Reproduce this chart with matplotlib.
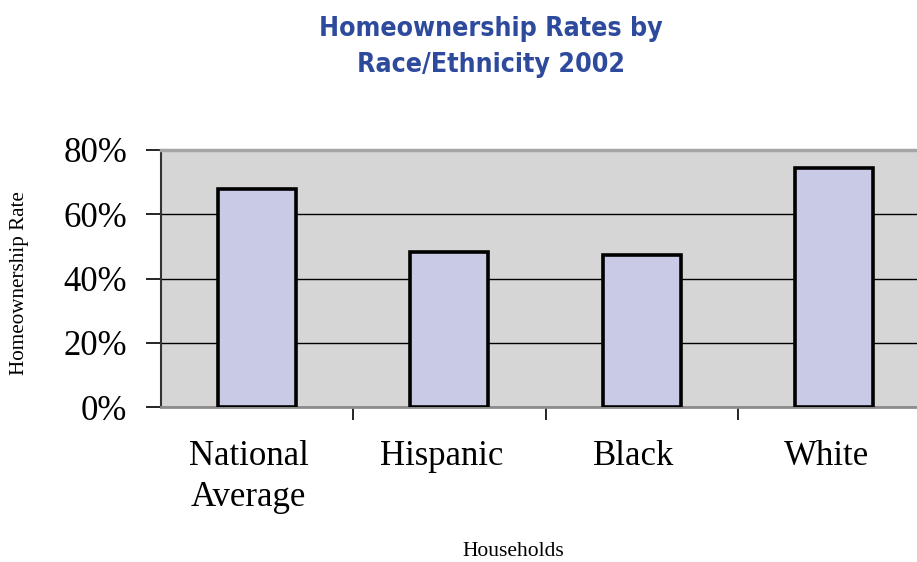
import matplotlib
matplotlib.use("Agg")
import matplotlib.pyplot as plt
import matplotlib.transforms as mtransforms
from matplotlib.ticker import FuncFormatter, FixedLocator, NullFormatter

categories = ["National\nAverage", "Hispanic", "Black", "White"]
rates = [67.9, 48.2, 47.3, 74.5]
yticks = [0, 20, 40, 60, 80]

title_text = "Homeownership Rates by\nRace/Ethnicity 2002"
xlabel_text = "Households"
ylabel_text = "Homeownership Rate"

W, H = 917, 562
fig = plt.figure(figsize=(W / 100, H / 100), dpi=100)
fig.patch.set_facecolor("white")

# plot area runs past the right edge of the canvas
ax = fig.add_axes([160.5 / W, 1 - 407 / H, 770 / W, 257 / H])
ax.set_facecolor("#d6d6d6")

x = list(range(len(categories)))
ax.bar(x, rates, width=0.405, color="#c8cae6", edgecolor="black",
       linewidth=2.6, zorder=3)

ax.set_xlim(-0.5, len(categories) - 0.5)
ax.set_ylim(0, 80)

ax.set_yticks(yticks)
ax.yaxis.set_major_formatter(FuncFormatter(lambda v, p: f"{v:.0f}%"))
ax.grid(axis="y", color="black", linewidth=1.0, zorder=1)

# category ticks sit between the bars, labels under the bar centres
ax.xaxis.set_major_locator(FixedLocator([i + 0.5 for i in range(len(categories) - 1)]))
ax.xaxis.set_major_formatter(NullFormatter())
ax.xaxis.set_minor_locator(FixedLocator(x))
ax.set_xticklabels(categories, minor=True)
ax.tick_params(axis="x", which="minor", length=0, pad=24)
ax.tick_params(axis="x", which="major", length=9, width=1.2, color="black", direction="out")
ax.tick_params(axis="y", length=11, width=1.2, color="black", direction="out", pad=13)

shift = mtransforms.ScaledTranslation(-8 / 100, 0, fig.dpi_scale_trans)
for lab in ax.get_xticklabels(minor=True):
    lab.set_transform(lab.get_transform() + shift)
    lab.set_linespacing(1.3)
for lab in ax.get_xticklabels(minor=True) + ax.get_yticklabels():
    lab.set_fontfamily("Liberation Serif")
    lab.set_fontsize(25)
    lab.set_color("black")

ax.spines["left"].set_color("#333333")
ax.spines["left"].set_linewidth(1.5)
ax.spines["bottom"].set_color("#8c8c8c")
ax.spines["bottom"].set_linewidth(2.0)
ax.spines["top"].set_color("#a6a6a6")
ax.spines["top"].set_linewidth(2.5)
ax.spines["right"].set_visible(False)

fig.text(491 / W, 1 - 47 / H, title_text, ha="center", va="center",
         fontsize=19.2, fontweight="bold", color="#2e4a9c",
         family="DejaVu Sans", fontstretch="condensed", linespacing=1.5)

fig.text(513 / W, 1 - 552 / H, xlabel_text, ha="center", va="center",
         fontsize=15.5, family="Liberation Serif", color="black")
fig.text(20 / W, 1 - 283 / H, ylabel_text, ha="center", va="center",
         rotation=90, fontsize=15.2, family="Liberation Serif", color="black")

fig.savefig("out.png", dpi=100)
